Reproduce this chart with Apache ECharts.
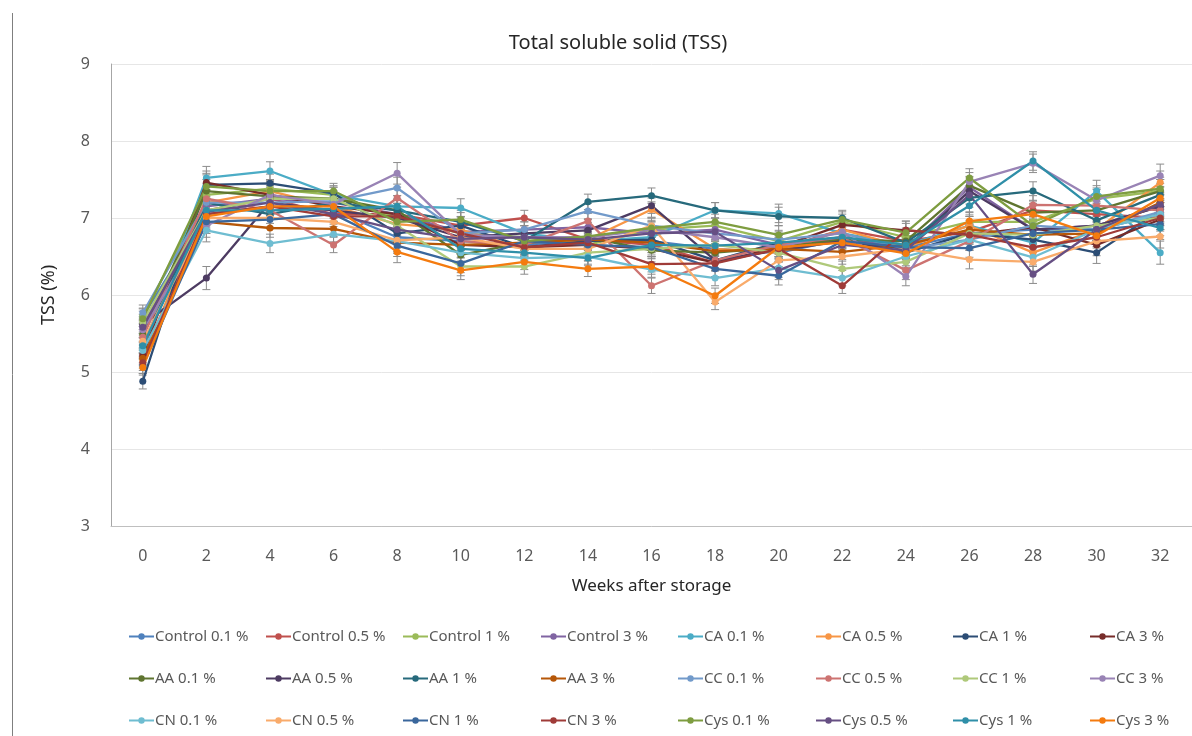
<!DOCTYPE html>
<html>
<head>
<meta charset="utf-8">
<script src="https://cdn.jsdelivr.net/npm/echarts@6/dist/echarts.min.js"></script>
<style>
  html, body { margin: 0; padding: 0; background: #fff; }
  #chart { width: 1192px; height: 736px; }
</style>
</head>
<body>
<div id="chart"></div>
<script>
// Storage weeks (category axis)
const weeks = ['0','2','4','6','8','10','12','14','16','18','20','22','24','26','28','30','32'];

// TSS (%) per treatment, one value per storage week
const control01 = [5.72, 7.05, 7.15, 7.10, 6.75, 6.70, 6.65, 6.72, 6.70, 6.60, 6.55, 6.72, 6.62, 6.80, 6.85, 6.85, 7.05];
const control05 = [5.20, 7.10, 7.25, 7.05, 7.05, 6.90, 7.00, 6.72, 6.65, 6.42, 6.60, 6.85, 6.70, 6.82, 7.10, 7.05, 7.00];
const control1  = [5.73, 7.30, 7.38, 7.30, 7.00, 6.80, 6.75, 6.65, 6.85, 6.90, 6.70, 6.95, 6.75, 6.95, 6.95, 7.25, 7.35];
const control3  = [5.60, 7.15, 7.25, 7.20, 7.05, 6.82, 6.85, 6.88, 6.80, 6.85, 6.65, 6.75, 6.60, 7.40, 6.85, 6.90, 7.15];
const ca01 = [5.30, 7.52, 7.61, 7.30, 7.15, 7.13, 6.80, 6.70, 6.75, 7.10, 7.06, 6.80, 6.65, 6.90, 6.68, 7.35, 6.55];
const ca05 = [5.15, 7.20, 7.35, 7.15, 6.92, 6.85, 6.60, 6.72, 7.11, 6.60, 6.55, 6.85, 6.62, 6.90, 6.55, 6.85, 7.46];
const ca1  = [4.88, 7.43, 7.45, 7.32, 6.80, 6.90, 6.62, 6.70, 6.72, 6.45, 6.68, 6.72, 6.55, 6.80, 6.72, 6.55, 7.10];
const ca3  = [5.22, 7.46, 7.30, 7.15, 7.05, 6.65, 6.62, 6.65, 6.60, 6.42, 6.62, 6.91, 6.84, 6.78, 6.88, 6.65, 6.98];
const aa01 = [5.49, 7.35, 7.28, 7.25, 7.10, 6.52, 6.68, 6.75, 6.58, 6.55, 6.62, 6.72, 6.70, 7.42, 7.07, 7.10, 7.35];
const aa05 = [5.62, 6.22, 7.20, 7.10, 7.00, 6.75, 6.80, 6.84, 7.16, 6.45, 6.58, 6.70, 6.60, 7.35, 6.85, 6.90, 7.15];
const aa1  = [5.35, 7.20, 7.05, 7.20, 7.10, 6.95, 6.70, 7.21, 7.29, 7.10, 7.02, 7.00, 6.68, 7.26, 7.35, 6.97, 7.30];
const aa3  = [5.18, 6.95, 6.87, 6.86, 6.68, 6.65, 6.68, 6.72, 6.68, 6.57, 6.60, 6.56, 6.65, 6.85, 6.78, 6.80, 7.20];
const cc01 = [5.77, 7.20, 7.20, 7.22, 7.39, 6.80, 6.85, 7.09, 6.90, 6.80, 6.72, 6.80, 6.60, 6.72, 6.90, 6.85, 7.08];
const cc05 = [5.45, 7.25, 7.10, 6.65, 7.26, 6.70, 6.65, 6.96, 6.12, 6.45, 6.65, 6.75, 6.32, 6.70, 7.17, 7.16, 7.10];
const cc1  = [5.65, 7.10, 7.25, 7.25, 6.90, 6.37, 6.37, 6.55, 6.60, 6.65, 6.55, 6.34, 6.43, 6.80, 6.78, 6.90, 7.00];
const cc3  = [5.55, 6.90, 7.30, 7.18, 7.58, 6.78, 6.75, 6.75, 6.85, 6.75, 6.62, 6.82, 6.24, 7.47, 7.71, 7.23, 7.55];
const cn01 = [5.28, 6.84, 6.67, 6.79, 6.70, 6.55, 6.48, 6.50, 6.33, 6.22, 6.35, 6.22, 6.50, 6.72, 6.49, 6.85, 7.05];
const cn05 = [5.40, 7.00, 7.00, 6.95, 6.71, 6.75, 6.60, 6.60, 6.90, 5.91, 6.45, 6.50, 6.60, 6.46, 6.43, 6.70, 6.76];
const cn1  = [5.08, 6.95, 6.98, 7.05, 6.64, 6.41, 6.70, 6.65, 6.62, 6.34, 6.25, 6.70, 6.62, 6.61, 6.80, 6.85, 6.92];
const cn3  = [5.12, 7.05, 7.15, 7.02, 7.02, 6.80, 6.62, 6.68, 6.40, 6.41, 6.60, 6.12, 6.84, 6.78, 6.62, 6.75, 7.00];
const cys01 = [5.69, 7.41, 7.35, 7.35, 6.95, 6.98, 6.70, 6.76, 6.87, 6.95, 6.78, 6.98, 6.81, 7.52, 6.90, 7.28, 7.38];
const cys05 = [5.58, 7.08, 7.20, 7.05, 6.85, 6.73, 6.75, 6.72, 6.80, 6.82, 6.32, 6.65, 6.58, 7.30, 6.27, 6.85, 7.18];
const cys1  = [5.34, 7.10, 7.10, 7.12, 7.15, 6.60, 6.55, 6.48, 6.65, 6.64, 6.68, 6.75, 6.65, 7.16, 7.74, 7.10, 6.87];
const cys3  = [5.06, 7.02, 7.15, 7.15, 6.56, 6.32, 6.43, 6.34, 6.37, 5.99, 6.62, 6.68, 6.54, 6.96, 7.05, 6.77, 7.26];

// Standard deviation per storage week (error bars)
const sdByWeek = [0.10, 0.15, 0.12, 0.10, 0.14, 0.12, 0.10, 0.10, 0.10, 0.10, 0.12, 0.10, 0.12, 0.12, 0.12, 0.14, 0.15];

const treatments = [
  { name: 'Control 0.1 %', data: control01, color: '#4F81BD' },
  { name: 'Control 0.5 %', data: control05, color: '#C0504D' },
  { name: 'Control 1 %',   data: control1,  color: '#9BBB59' },
  { name: 'Control 3 %',   data: control3,  color: '#8064A2' },
  { name: 'CA 0.1 %', data: ca01, color: '#4BACC6' },
  { name: 'CA 0.5 %', data: ca05, color: '#F79646' },
  { name: 'CA 1 %',   data: ca1,  color: '#2C4D75' },
  { name: 'CA 3 %',   data: ca3,  color: '#772C2A' },
  { name: 'AA 0.1 %', data: aa01, color: '#5F7530' },
  { name: 'AA 0.5 %', data: aa05, color: '#4D3B62' },
  { name: 'AA 1 %',   data: aa1,  color: '#276A7C' },
  { name: 'AA 3 %',   data: aa3,  color: '#B65708' },
  { name: 'CC 0.1 %', data: cc01, color: '#729ACA' },
  { name: 'CC 0.5 %', data: cc05, color: '#CD7371' },
  { name: 'CC 1 %',   data: cc1,  color: '#AFC97A' },
  { name: 'CC 3 %',   data: cc3,  color: '#9983B5' },
  { name: 'CN 0.1 %', data: cn01, color: '#6FBDD1' },
  { name: 'CN 0.5 %', data: cn05, color: '#F9AB6B' },
  { name: 'CN 1 %',   data: cn1,  color: '#3A679C' },
  { name: 'CN 3 %',   data: cn3,  color: '#9F3B38' },
  { name: 'Cys 0.1 %', data: cys01, color: '#7E9D40' },
  { name: 'Cys 0.5 %', data: cys05, color: '#664F83' },
  { name: 'Cys 1 %',   data: cys1,  color: '#2F8FA8' },
  { name: 'Cys 3 %',   data: cys3,  color: '#F47B0F' }
];

const FONT = '"Noto Sans", "Open Sans", sans-serif';

// Error bar points: [weekIndex, mean, sd]
const errData = [];
treatments.forEach(t => t.data.forEach((v, i) => errData.push([i, v, sdByWeek[i]])));

const lineSeries = treatments.map(t => ({
  name: t.name,
  type: 'line',
  data: t.data,
  symbol: 'circle',
  symbolSize: 7,
  z: 3,
  itemStyle: { color: t.color },
  lineStyle: { color: t.color, width: 2.3 },
  emphasis: { disabled: true }
}));

const errorSeries = {
  type: 'custom',
  name: 'sd',
  z: 2,
  silent: true,
  data: errData,
  renderItem: function (params, api) {
    const x = api.value(0), m = api.value(1), s = api.value(2);
    const hi = api.coord([x, m + s]);
    const lo = api.coord([x, m - s]);
    const w = 4;
    const style = { stroke: '#8c8c8c', lineWidth: 1 };
    return {
      type: 'group',
      children: [
        { type: 'line', shape: { x1: hi[0], y1: hi[1], x2: lo[0], y2: lo[1] }, style },
        { type: 'line', shape: { x1: hi[0] - w, y1: hi[1], x2: hi[0] + w, y2: hi[1] }, style },
        { type: 'line', shape: { x1: lo[0] - w, y1: lo[1], x2: lo[0] + w, y2: lo[1] }, style }
      ]
    };
  }
};

// Legend: 8 columns x 3 rows
const colLeft = [123, 260, 397, 535, 672, 810, 947, 1084];
const legends = colLeft.map((left, c) => {
  const block = c < 4 ? 0 : 4;
  const k = c % 4;
  return {
    orient: 'vertical',
    left: left,
    top: 624,
    itemGap: 27,
    itemWidth: 25,
    itemHeight: 8,
    data: [treatments[block + k].name, treatments[8 + block + k].name, treatments[16 + block + k].name],
    textStyle: { fontFamily: FONT, fontSize: 15, color: '#595959', padding: [0, 0, 0, -4] },
    selectedMode: false
  };
});

const chart = echarts.init(document.getElementById('chart'), null, { renderer: 'canvas' });
chart.setOption({
  animation: false,
  backgroundColor: '#fff',
  title: {
    text: 'Total soluble solid (TSS)',
    left: 613,
    textAlign: 'center',
    top: 28,
    textStyle: { fontFamily: FONT, fontSize: 20, fontWeight: 'normal', color: '#262626' }
  },
  legend: legends,
  grid: { left: 111, top: 64, width: 1088, height: 462, containLabel: false },
  xAxis: {
    type: 'category',
    data: weeks,
    boundaryGap: true,
    name: 'Weeks after storage',
    nameLocation: 'middle',
    nameGap: 52,
    nameTextStyle: { fontFamily: FONT, fontSize: 17, color: '#262626' },
    axisLine: { lineStyle: { color: '#bfbfbf' } },
    axisTick: { show: false },
    axisLabel: { fontFamily: FONT, fontSize: 16, color: '#595959', margin: 22 },
    splitLine: { show: false }
  },
  yAxis: {
    type: 'value',
    min: 3,
    max: 9,
    interval: 1,
    name: 'TSS (%)',
    nameLocation: 'middle',
    nameGap: 53,
    nameTextStyle: { fontFamily: FONT, fontSize: 18, color: '#262626' },
    axisLine: { show: true, lineStyle: { color: '#a6a6a6' } },
    axisTick: { show: false },
    axisLabel: { fontFamily: FONT, fontSize: 16, color: '#595959', margin: 21 },
    splitLine: { lineStyle: { color: '#e6e6e6' } }
  },
  graphic: [
    { type: 'line', shape: { x1: 12.5, y1: 13, x2: 12.5, y2: 736 }, style: { stroke: '#7f7f7f', lineWidth: 1 } }
  ],
  series: [errorSeries].concat(lineSeries)
});
</script>
</body>
</html>
